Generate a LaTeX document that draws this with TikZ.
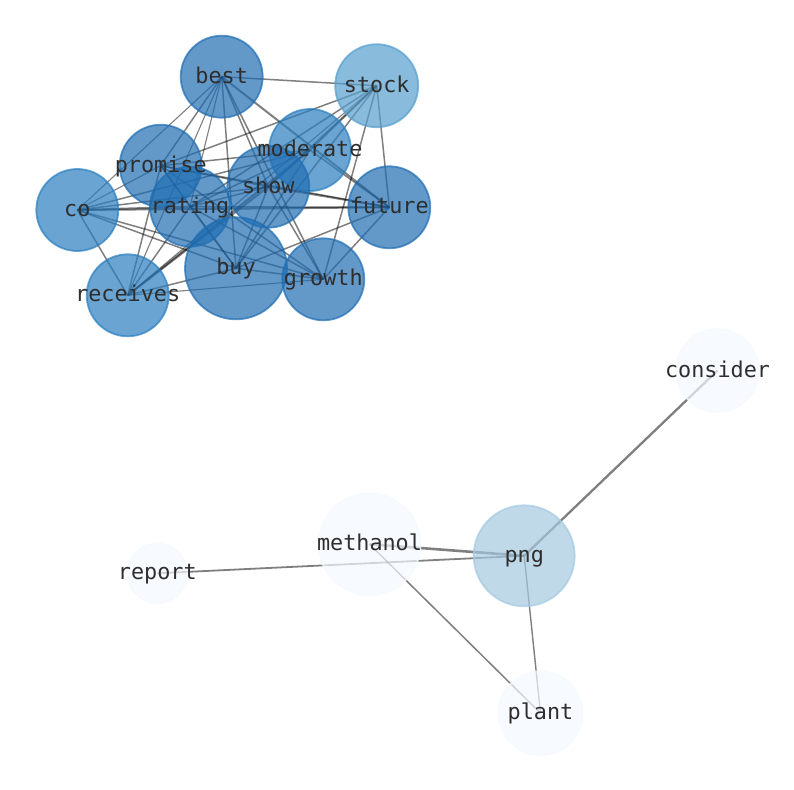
\documentclass[tikz,border=0pt]{standalone}
\usepackage{fontspec}
\newfontfamily\lblfont{DejaVu Sans Mono}
\usetikzlibrary{backgrounds}
\definecolor{cDark}{HTML}{1F6DB2}
\definecolor{cMid}{HTML}{2A7EBF}
\definecolor{cStock}{HTML}{559ECD}
\definecolor{cPng}{HTML}{A4C9E0}
\definecolor{cLight}{HTML}{F4F9FF}
\begin{document}
\begin{tikzpicture}[x=1bp,y=-1bp,
  nd/.style={circle,inner sep=0pt,outer sep=0pt,draw=#1,fill=#1,opacity=0.7,line width=1.8bp},
  lbl/.style={anchor=base,inner sep=0pt,outer sep=0pt,font=\lblfont\fontsize{21.8bp}{26bp}\selectfont,text=black!82},
  ed/.style={draw=black,draw opacity=0.5,line width=1.5bp},
  edthin/.style={draw=black,draw opacity=0.5,line width=1.1bp},
  edthick/.style={draw=black,draw opacity=0.5,line width=2.0bp},
  ]
\useasboundingbox (0,0) rectangle (794,790);
% nodes
\node[nd=cDark,minimum size=82bp] (best) at (221.7,76.7) {};
\node[nd=cStock,minimum size=83bp] (stock) at (376.7,85.7) {};
\node[nd=cDark,minimum size=82bp] (promise) at (160.7,165.7) {};
\node[nd=cMid,minimum size=82bp] (moderate) at (310,150) {};
\node[nd=cMid,minimum size=82bp] (co) at (77.3,210) {};
\node[nd=cDark,minimum size=80bp] (rating) at (190,206.7) {};
\node[nd=cDark,minimum size=82bp] (show) at (268.3,186.7) {};
\node[nd=cDark,minimum size=82bp] (future) at (389.3,207.3) {};
\node[nd=cDark,minimum size=102bp] (buy) at (236,268.3) {};
\node[nd=cDark,minimum size=82bp] (growth) at (323.3,279.3) {};
\node[nd=cMid,minimum size=82bp] (receives) at (127.7,295.3) {};
\node[nd=cLight,minimum size=83bp] (consider) at (717.5,370.5) {};
\node[nd=cLight,minimum size=102bp] (methanol) at (369.5,544.2) {};
\node[nd=cPng,minimum size=101bp] (png) at (524.2,555.8) {};
\node[nd=cLight,minimum size=60bp] (report) at (157.3,573.3) {};
\node[nd=cLight,minimum size=84bp] (plant) at (540.5,713.2) {};
% labels
\foreach \n in {best,stock,promise,moderate,co,rating,show,future,buy,growth,receives,consider,methanol,png,report,plant}
  \node[lbl] (l\n) at ([yshift=-6.6bp]\n.center) {\n};
% edges
\begin{scope}[on background layer]
\draw[ed] (best.center) -- (stock.center);
\draw[edthick] (best.center) -- (future.center);
\draw[ed] (best.center) -- (show.center);
\draw[ed] (best.center) -- (growth.center);
\draw[edthin] (best.center) -- (co.center);
\draw[ed] (best.center) -- (promise.center);
\draw[edthin] (best.center) -- (rating.center);
\draw[edthin] (best.center) -- (receives.center);
\draw[ed] (best.center) -- (buy.center);
\draw[ed] (stock.center) -- (promise.center);
\draw[ed] (stock.center) -- (moderate.center);
\draw[ed] (stock.center) -- (show.center);
\draw[ed] (stock.center) -- (buy.center);
\draw[ed] (stock.center) -- (growth.center);
\draw[ed] (stock.center) -- (future.center);
\draw[edthin] (stock.center) -- (receives.center);
\draw[ed] (stock.center) -- (rating.center);
\draw[ed] (moderate.center) -- (future.center);
\draw[ed] (moderate.center) -- (co.center);
\draw[ed] (moderate.center) -- (promise.center);
\draw[ed] (moderate.center) -- (rating.center);
\draw[ed] (moderate.center) -- (buy.center);
\draw[edthick] (moderate.center) -- (receives.center);
\draw[ed] (moderate.center) -- (show.center);
\draw[edthin] (promise.center) -- (co.center);
\draw[ed] (promise.center) -- (show.center);
\draw[ed] (promise.center) -- (rating.center);
\draw[ed] (promise.center) -- (growth.center);
\draw[ed] (promise.center) -- (buy.center);
\draw[ed] (promise.center) -- (receives.center);
\draw[ed] (promise.center) -- (future.center);
\draw[ed] (show.center) -- (co.center);
\draw[edthick] (show.center) -- (future.center);
\draw[ed] (show.center) -- (growth.center);
\draw[ed] (show.center) -- (buy.center);
\draw[edthick] (show.center) -- (receives.center);
\draw[ed] (show.center) -- (rating.center);
\draw[edthick] (rating.center) -- (co.center);
\draw[ed] (rating.center) -- (future.center);
\draw[ed] (rating.center) -- (receives.center);
\draw[ed] (rating.center) -- (growth.center);
\draw[ed] (rating.center) -- (buy.center);
\draw[edthick] (co.center) -- (future.center);
\draw[ed] (co.center) -- (buy.center);
\draw[ed] (co.center) -- (growth.center);
\draw[ed] (co.center) -- (receives.center);
\draw[ed] (future.center) -- (buy.center);
\draw[ed] (future.center) -- (growth.center);
\draw[ed] (buy.center) -- (growth.center);
\draw[ed] (buy.center) -- (receives.center);
\draw[edthin] (growth.center) -- (receives.center);
% second component
\draw[draw=black,draw opacity=0.5,line width=2.3bp] (png.center) -- (consider.center);
\draw[draw=black,draw opacity=0.5,line width=2.6bp] (methanol.center) -- (png.center);
\draw[draw=black,draw opacity=0.5,line width=1.8bp] (report.center) -- (png.center);
\draw[draw=black,draw opacity=0.5,line width=1.5bp] (methanol.center) -- (plant.center);
\draw[draw=black,draw opacity=0.5,line width=1.4bp] (png.center) -- (plant.center);
\end{scope}
\end{tikzpicture}
\end{document}
